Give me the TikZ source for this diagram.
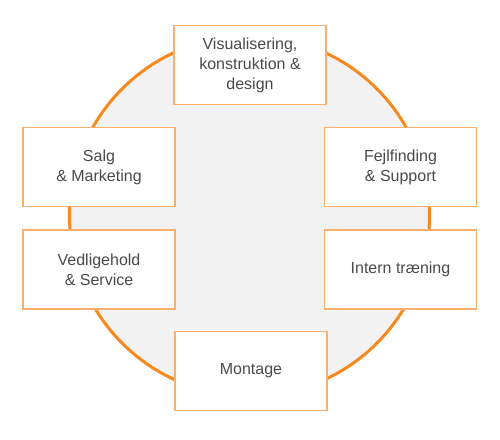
\documentclass[tikz,border=0pt]{standalone}
\usepackage{fontspec}
\setmainfont{Liberation Sans}
\definecolor{ringorange}{HTML}{F7891F}
\definecolor{boxorange}{HTML}{FCAE6C}
\definecolor{ringfill}{HTML}{F2F2F2}
\definecolor{txt}{HTML}{4A4A4A}
\begin{document}
\begin{tikzpicture}[x=1pt,y=-1pt,
  boxnode/.style={draw=boxorange,line width=1.3pt,fill=white,minimum width=152pt,minimum height=79pt,
    inner sep=0pt,align=center,text=txt,font=\fontsize{16}{20}\selectfont}]
\useasboundingbox (0,0) rectangle (500,439);
\coordinate (c) at (249.5,216);
\draw[ringorange,line width=3pt,fill=ringfill] (c) circle[radius=180];
\node[boxnode] (viz) at (250,65) {Visualisering,\\konstruktion \&\\design};
\node[boxnode] (salg) at (99,167) {Salg\\\& Marketing};
\node[boxnode] (fejl) at (400.5,167) {Fejlfinding\\\& Support};
\node[boxnode] (vedl) at (99,269.5) {Vedligehold\\\& Service};
\node[boxnode] (intern) at (400.5,269.5) {Intern træning};
\node[boxnode] (mont) at (251,371) {Montage};
\end{tikzpicture}
\end{document}
